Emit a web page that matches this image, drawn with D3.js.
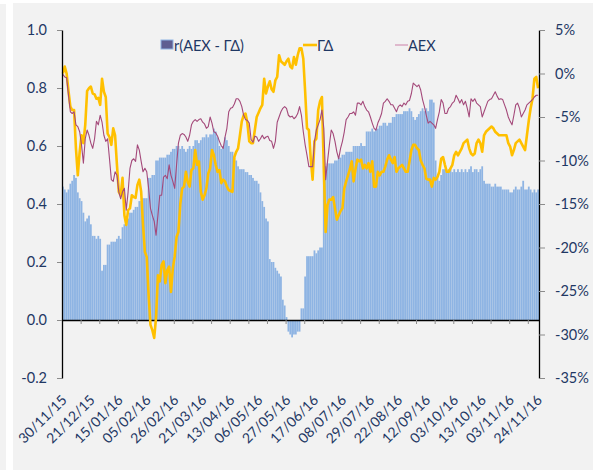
<!DOCTYPE html>
<html lang="en">
<head>
<meta charset="UTF-8">
<title>r(AEX - ΓΔ)</title>
<style>
  body { margin: 0; background: #ffffff; }
  svg { display: block; font-family: Lato, "Open Sans", sans-serif; }
</style>
</head>
<body>
<svg id="chart" width="593" height="470"></svg>
<script src="https://d3js.org/d3.v7.min.js"></script>
<script>
// every 15th trading day gets a label
const dateLabels = ["30/11/15", "21/12/15", "15/01/16", "05/02/16", "26/02/16", "21/03/16",
  "13/04/16", "06/05/16", "27/05/16", "17/06/16", "08/07/16", "29/07/16",
  "22/08/16", "12/09/16", "03/10/16", "13/10/16", "03/11/16", "24/11/16"];

// r(AEX - ΓΔ), left axis
const corr = [
  0.46,0.45,0.44,0.45,0.47,0.48,0.50,0.49,0.44,0.42,
  0.41,0.37,0.34,0.35,0.36,0.33,0.29,0.29,0.28,0.29,
  0.28,0.17,0.19,0.19,0.26,0.26,0.27,0.27,0.27,0.28,
  0.29,0.28,0.32,0.33,0.34,0.35,0.37,0.37,0.38,0.39,
  0.39,0.41,0.41,0.42,0.42,0.42,0.49,0.49,0.50,0.50,
  0.55,0.55,0.56,0.56,0.56,0.56,0.57,0.57,0.58,0.59,
  0.59,0.60,0.60,0.59,0.60,0.59,0.58,0.59,0.60,0.59,
  0.60,0.62,0.62,0.61,0.62,0.63,0.63,0.64,0.63,0.64,
  0.64,0.66,0.65,0.63,0.60,0.59,0.60,0.63,0.62,0.60,
  0.58,0.58,0.56,0.55,0.53,0.52,0.52,0.52,0.51,0.51,
  0.50,0.50,0.49,0.48,0.48,0.47,0.44,0.41,0.39,0.35,
  0.34,0.21,0.20,0.20,0.18,0.17,0.16,0.15,0.07,0.05,
  0.01,-0.04,-0.05,-0.06,-0.05,-0.05,-0.04,-0.04,0.04,0.04,
  0.15,0.22,0.22,0.22,0.22,0.24,0.23,0.24,0.25,0.25,
  0.53,0.53,0.54,0.54,0.54,0.54,0.55,0.55,0.56,0.56,
  0.57,0.57,0.58,0.58,0.58,0.58,0.60,0.60,0.60,0.60,
  0.61,0.60,0.60,0.65,0.65,0.65,0.66,0.65,0.66,0.66,
  0.67,0.67,0.68,0.68,0.67,0.68,0.68,0.70,0.70,0.71,
  0.71,0.71,0.71,0.72,0.72,0.72,0.73,0.72,0.70,0.69,
  0.70,0.71,0.72,0.73,0.72,0.73,0.72,0.76,0.76,0.75,
  0.55,0.49,0.48,0.50,0.52,0.52,0.51,0.52,0.52,0.51,
  0.52,0.51,0.52,0.51,0.52,0.51,0.52,0.51,0.52,0.53,
  0.51,0.52,0.52,0.51,0.52,0.53,0.48,0.47,0.47,0.47,
  0.46,0.46,0.47,0.46,0.46,0.46,0.45,0.45,0.45,0.45,
  0.44,0.44,0.45,0.46,0.45,0.45,0.46,0.48,0.45,0.45,
  0.46,0.45,0.44,0.45,0.44,0.45
];

// ΓΔ in %, right axis
const gammaDelta = [
  0.0,0.8,0.0,-2.0,-3.8,-4.2,-4.2,-8.6,-11.7,-9.0,
  -7.1,-8.0,-5.9,-2.0,-1.7,-1.5,-2.3,-2.4,-2.9,-2.8,
  -3.6,-0.6,-2.1,-2.7,-6.9,-7.3,-8.2,-6.3,-7.1,-10.5,
  -13.6,-14.0,-12.0,-16.3,-17.4,-15.7,-15.5,-14.0,-14.2,-14.3,
  -12.8,-12.2,-13.6,-17.4,-20.5,-21.1,-25.5,-28.9,-29.5,-30.4,
  -28.0,-23.2,-23.9,-22.0,-21.6,-24.1,-22.6,-22.2,-25.1,-22.4,
  -21.0,-18.8,-18.2,-15.0,-13.2,-13.0,-11.3,-12.5,-13.0,-11.1,
  -10.9,-8.8,-10.5,-10.1,-13.6,-14.5,-14.0,-13.2,-11.5,-10.9,
  -8.8,-9.4,-10.5,-11.3,-11.1,-12.6,-12.2,-12.4,-13.0,-13.4,
  -13.5,-13.6,-9.6,-9.0,-8.6,-7.1,-5.5,-4.8,-4.6,-5.7,
  -7.8,-8.0,-8.0,-6.5,-5.0,-4.5,-4.0,-3.6,-0.6,-2.3,
  -1.5,-0.9,-1.8,-2.1,-0.8,-0.4,2.1,1.4,1.2,1.0,
  1.4,1.7,0.8,0.6,1.9,1.0,2.1,2.9,2.9,1.7,
  -2.1,-6.3,-6.5,-9.8,-12.2,-7.8,-7.5,-4.2,-3.2,-2.7,
  -10.9,-18.2,-15.1,-14.5,-14.5,-14.2,-15.5,-16.8,-16.3,-15.8,
  -15.5,-13.2,-12.4,-11.7,-11.0,-10.1,-12.4,-11.0,-9.9,-10.1,
  -9.9,-10.9,-10.5,-10.9,-10.3,-11.3,-10.1,-13.0,-13.0,-11.3,
  -11.7,-11.3,-11.3,-10.7,-9.9,-9.4,-9.9,-10.3,-9.6,-11.3,
  -10.9,-10.7,-10.5,-10.9,-11.3,-11.3,-10.1,-8.8,-8.2,-8.2,
  -8.6,-8.8,-10.0,-10.5,-10.9,-12.1,-12.2,-12.2,-13.0,-12.0,
  -12.2,-11.9,-11.3,-9.8,-9.6,-10.5,-11.3,-11.3,-10.9,-10.5,
  -9.4,-9.0,-9.4,-9.0,-8.6,-8.0,-7.8,-7.6,-8.6,-9.2,
  -9.4,-9.2,-8.0,-7.6,-8.0,-9.0,-7.1,-6.7,-6.5,-6.3,
  -6.1,-6.3,-6.7,-6.9,-7.1,-7.1,-7.1,-7.1,-7.1,-8.0,
  -8.4,-9.4,-8.8,-8.0,-7.8,-7.6,-8.0,-8.4,-8.8,-7.1,
  -5.4,-4.0,-2.9,-0.6,-0.4,-1.7
];

// AEX in %, right axis
const aex = [
  -0.1,-0.4,-0.5,-2.5,-4.4,-4.6,-4.4,-5.9,-6.1,-6.7,
  -8.2,-10.3,-7.5,-6.5,-7.1,-8.0,-8.6,-7.5,-5.5,-5.9,
  -4.8,-5.6,-7.1,-7.8,-7.5,-9.8,-12.2,-12.4,-11.3,-11.7,
  -13.6,-14.4,-13.6,-13.2,-15.7,-13.6,-10.9,-10.0,-9.8,-10.1,
  -8.2,-8.8,-10.1,-11.3,-10.9,-11.3,-13.2,-15.5,-16.3,-17.0,
  -18.6,-16.3,-14.0,-14.0,-11.9,-11.7,-12.1,-10.5,-11.7,-12.4,
  -13.2,-10.5,-8.0,-7.1,-6.9,-7.0,-7.3,-7.8,-7.1,-5.9,
  -5.5,-5.3,-5.5,-5.3,-5.2,-5.6,-5.8,-6.3,-6.1,-5.0,
  -5.7,-6.7,-6.8,-7.2,-7.8,-8.3,-8.6,-7.3,-6.3,-4.4,
  -4.0,-3.9,-3.5,-2.9,-2.9,-3.2,-3.8,-4.8,-5.3,-5.4,
  -5.7,-7.6,-7.9,-7.2,-7.3,-7.8,-7.5,-7.1,-7.5,-7.3,
  -7.2,-7.7,-7.8,-8.6,-7.8,-5.6,-5.0,-4.4,-4.0,-3.8,
  -4.0,-4.8,-5.0,-4.9,-5.2,-5.0,-4.6,-3.8,-4.8,-6.7,
  -8.2,-9.4,-10.7,-10.7,-10.7,-7.8,-6.5,-5.9,-5.3,-4.2,
  -6.3,-12.2,-10.1,-8.2,-6.5,-6.9,-7.8,-9.0,-9.8,-8.6,
  -7.8,-6.7,-5.3,-5.0,-4.6,-4.6,-4.4,-4.8,-3.4,-3.4,
  -3.6,-3.2,-3.8,-4.2,-4.4,-5.0,-5.7,-6.3,-6.5,-5.7,
  -5.2,-4.6,-3.4,-3.2,-2.9,-3.2,-3.6,-3.6,-4.0,-4.4,
  -3.8,-3.6,-3.8,-3.4,-3.6,-3.2,-3.1,-2.3,-1.1,-1.3,
  -1.5,-1.3,-1.9,-3.0,-3.8,-4.8,-5.7,-5.5,-5.7,-5.9,
  -6.3,-5.3,-4.4,-3.0,-3.4,-4.6,-4.6,-4.0,-3.8,-3.4,
  -3.2,-2.5,-2.9,-3.4,-3.0,-3.6,-3.2,-4.0,-5.0,-2.9,
  -3.2,-2.9,-3.4,-3.6,-3.8,-5.0,-4.4,-3.8,-3.2,-3.0,
  -2.9,-2.5,-2.1,-2.6,-3.0,-2.9,-3.0,-3.6,-4.2,-5.0,
  -5.5,-5.9,-4.8,-3.6,-3.4,-4.0,-5.0,-4.6,-4.2,-3.6,
  -3.4,-3.2,-3.0,-2.7,-2.5,-2.5
];

const leftTicks = [-0.2, 0, 0.2, 0.4, 0.6, 0.8, 1.0];
const rightTicks = [-35, -30, -25, -20, -15, -10, -5, 0, 5];

const svg = d3.select("#chart");
const plotLeft = 62, plotRight = 539, plotTop = 30, plotBottom = 378;
const textColor = "#1F3864";

// grey panels behind the chart
svg.append("rect").attr("x", 0).attr("y", 4).attr("width", 6).attr("height", 466).attr("fill", "#f2f2f2");
svg.append("rect").attr("x", 13).attr("y", 3).attr("width", 580).attr("height", 467).attr("fill", "#f2f2f2");

const idx = d3.range(corr.length);
const x = d3.scaleBand().domain(idx).range([plotLeft, plotRight]).paddingInner(0.04);
const xPos = d3.scaleLinear().domain([0, corr.length]).range([plotLeft, plotRight]);
const yL = d3.scaleLinear().domain([-0.2, 1.0]).range([plotBottom, plotTop]);
const yR = d3.scaleLinear().domain([-35, 5]).range([plotBottom, plotTop]);
const cx = i => x(i) + x.bandwidth() / 2;

// bars
svg.append("g").selectAll("rect")
  .data(idx)
  .join("rect")
  .attr("x", i => x(i))
  .attr("width", x.bandwidth())
  .attr("y", i => Math.min(yL(corr[i]), yL(0)))
  .attr("height", i => Math.abs(yL(corr[i]) - yL(0)))
  .attr("fill", "#8EB4E3");

// category ticks on the zero line
const xAxis = svg.append("g")
  .attr("transform", `translate(0,${yL(0)})`)
  .call(d3.axisBottom(xPos).tickValues(d3.range(0, corr.length + 1, 10)).tickSize(4).tickSizeOuter(0).tickFormat(""));
xAxis.select(".domain").attr("stroke", "#000").attr("stroke-width", 1.3);
xAxis.selectAll(".tick line").attr("stroke", "#8c8c8c");

// lines
const lineR = series => d3.line().x(i => cx(i)).y(i => yR(series[i]));
svg.append("path").datum(idx)
  .attr("d", lineR(gammaDelta))
  .attr("fill", "none").attr("stroke", "#FFC000").attr("stroke-width", 2.6)
  .attr("stroke-linejoin", "round");
svg.append("path").datum(idx)
  .attr("d", lineR(aex))
  .attr("fill", "none").attr("stroke", "#A4497A").attr("stroke-width", 1.1)
  .attr("stroke-linejoin", "round");

// left axis
const axL = svg.append("g").attr("transform", `translate(${plotLeft},0)`)
  .call(d3.axisLeft(yL).tickValues(leftTicks).tickSize(5).tickSizeOuter(0).tickPadding(10)
    .tickFormat(d => d.toFixed(1)));
// right axis
const axR = svg.append("g").attr("transform", `translate(${plotRight},0)`)
  .call(d3.axisRight(yR).tickValues(rightTicks).tickSize(6).tickSizeOuter(0).tickPadding(10)
    .tickFormat(d => d + "%"));
[axL, axR].forEach(ax => {
  ax.select(".domain").attr("stroke", "#000").attr("stroke-width", 1.3);
  ax.selectAll(".tick line").attr("stroke", "#8c8c8c");
  ax.selectAll(".tick text").attr("fill", textColor).attr("font-size", 14.5)
    .attr("font-family", "Lato, 'Open Sans', sans-serif");
});

// rotated date labels
svg.append("g").selectAll("text")
  .data(dateLabels)
  .join("text")
  .attr("transform", (d, k) => `translate(${cx(k * 15) + 1},397) rotate(-45)`)
  .attr("text-anchor", "end")
  .attr("dominant-baseline", "central")
  .attr("font-size", 14)
  .attr("fill", textColor)
  .text(d => d);

// legend
const lg = svg.append("g").attr("font-size", 14.5).attr("fill", textColor);
lg.append("rect").attr("x", 161).attr("y", 40).attr("width", 12).attr("height", 9)
  .attr("fill", "#5F5F92").attr("stroke", "#8EB4E3").attr("stroke-width", 1);
lg.append("text").attr("x", 174).attr("y", 45).attr("dominant-baseline", "central").text("r(AEX - ΓΔ)");
lg.append("line").attr("x1", 303).attr("x2", 317).attr("y1", 45).attr("y2", 45)
  .attr("stroke", "#FFC000").attr("stroke-width", 2.6);
lg.append("text").attr("x", 317).attr("y", 45).attr("dominant-baseline", "central").text("ΓΔ");
lg.append("line").attr("x1", 395).attr("x2", 408).attr("y1", 45).attr("y2", 45)
  .attr("stroke", "#D9A6C0").attr("stroke-width", 1.5);
lg.append("text").attr("x", 408).attr("y", 45).attr("dominant-baseline", "central").text("AEX");
</script>
</body>
</html>
